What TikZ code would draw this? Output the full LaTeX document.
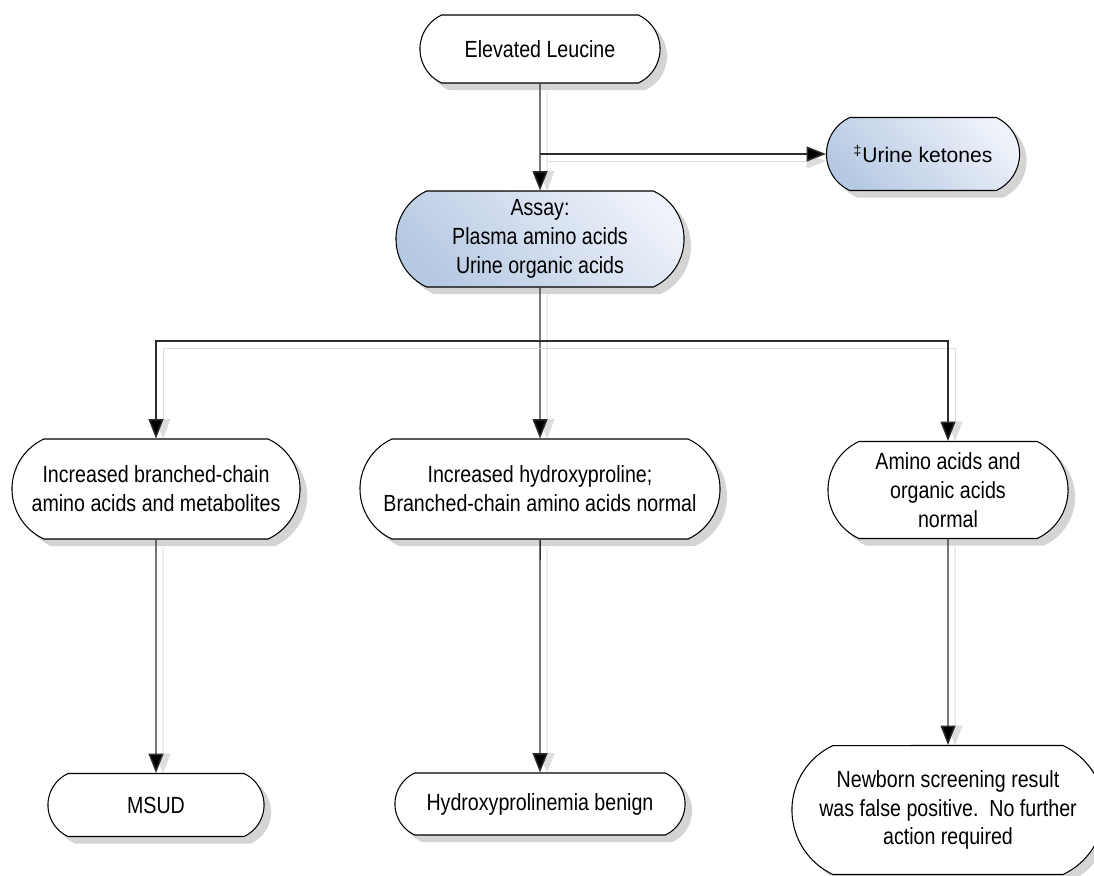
\documentclass[tikz,border=0pt]{standalone}
\usepackage{fontspec}
\setmainfont{Liberation Sans}[FakeStretch=0.84]
\newfontfamily\plainsans{Liberation Sans}
\usetikzlibrary{shapes.misc,arrows.meta,shadows}

\definecolor{linegray}{HTML}{2E2E2E}
\definecolor{shadegray}{HTML}{D4D4D4}
\definecolor{traceray}{HTML}{DDDDDD}
\definecolor{paleblue}{HTML}{EEF2FA}
\definecolor{deepblue}{HTML}{B6C9E3}

\tikzset{
  stadium/.style={rounded rectangle, rounded rectangle arc length=130,
    draw=black, line width=0.6pt, fill=white, align=center,
    inner xsep=-10pt, inner ysep=0pt,
    font=\fontsize{13.3}{16.4}\selectfont,
    drop shadow={shadow xshift=4pt, shadow yshift=-4pt, fill=shadegray, opacity=1}},
  bluestadium/.style={stadium, top color=paleblue, bottom color=deepblue, shading angle=-45},
  flow/.style={draw=linegray, line width=0.8pt, -{Triangle[length=11pt,width=8.5pt,fill=black]},
    preaction={draw=traceray, line width=0.6pt, -{Triangle[length=11pt,width=8.5pt,fill=traceray]},
      shorten >=4pt, transform canvas={shift={(4pt,-4pt)}}}}
}

\begin{document}
\begin{tikzpicture}[x=0.02cm, y=-0.02cm]
\useasboundingbox (0,0) rectangle (1094,875);
\clip (0,0) rectangle (1094,875);

\node[stadium, minimum width=4.1cm, minimum height=1.36cm] (leucine) at (540,49) {Elevated Leucine};
\node[bluestadium, minimum width=3.16cm, minimum height=1.46cm, font=\plainsans\fontsize{12}{16}\selectfont]
  (ketones) at (923,154) {\textsuperscript{‡}Urine ketones};
\node[bluestadium, minimum width=5.06cm, minimum height=1.92cm] (assay) at (540,239)
  {Assay:\\Plasma amino acids\\Urine organic acids};

\node[stadium, minimum width=5.06cm, minimum height=2cm] (bcaa) at (156,489)
  {Increased branched-chain\\amino acids and metabolites};
\node[stadium, minimum width=6.5cm, minimum height=2cm] (hyp) at (540,489)
  {Increased hydroxyproline;\\Branched-chain amino acids normal};
\node[stadium, minimum width=4.1cm, minimum height=1.94cm] (normal) at (948,490)
  {Amino acids and\\organic acids\\normal};

\node[stadium, minimum width=3.62cm, minimum height=1.26cm] (msud) at (156,805) {MSUD};
\node[stadium, minimum width=5.1cm, minimum height=1.24cm] (benign) at (540,804)
  {Hydroxyprolinemia benign};
\node[stadium, minimum width=5.54cm, minimum height=2.58cm] (falsepos) at (948,810)
  {Newborn screening result\\was false positive.\ \ No further\\action required};

\coordinate (tap) at (540,154);
\coordinate (fork) at (540,341);

\draw[flow] (leucine) -- (assay);
\draw[flow] (tap) -- (ketones.west);
\draw[flow] (assay) -- (hyp);
\draw[flow] (fork) -| (bcaa.north);
\draw[flow] (fork) -| (normal.north);
\draw[flow] (bcaa) -- (msud);
\draw[flow] (hyp) -- (benign);
\draw[flow] (normal) -- (falsepos);
\end{tikzpicture}
\end{document}
